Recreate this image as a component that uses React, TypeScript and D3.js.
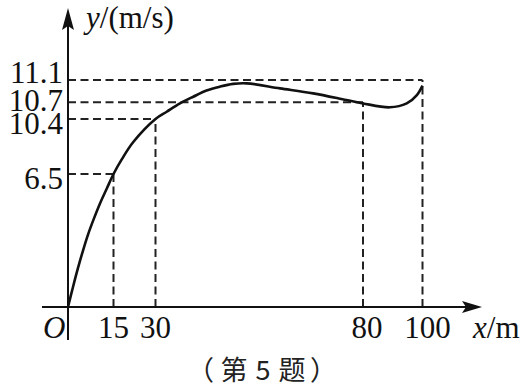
import * as d3 from 'd3';

// distance along the track (m) and speed (m/s)
const distance = [0, 1.65, 3.3, 4.95, 6.6, 8.57, 10.55, 12.76, 15, 18, 22, 30, 32.7, 35.9, 39.1, 42.3, 45.5, 48.7, 52, 60, 68, 76, 80, 89, 94.7, 98.1, 100];
const speed = [0, 0.98, 1.91, 2.76, 3.54, 4.33, 5.06, 5.78, 6.5, 7.55, 8.75, 10.4, 10.53, 10.68, 10.8, 10.91, 10.98, 11.03, 11.04, 10.95, 10.86, 10.74, 10.68, 10.61, 10.68, 10.83, 11.0];

// marked points (dashed guides)
const markX = [15, 30, 80, 100];
const markY = [6.5, 10.4, 10.7, 11.1];
const xTickLabels = ['15', '30', '80', '100'];
const yTickLabels = ['6.5', '10.4', '10.7', '11.1'];
const caption = ['（', '第', '5', '题', '）'];

const W = 527;
const H = 387;

export default function App() {
  // the textbook figure is not drawn to a uniform scale, so use piecewise scales
  const x = d3.scaleLinear().domain([0, 15, 30, 80, 100]).range([68, 113.5, 155.5, 363, 422.5]);
  const y = d3.scaleLinear().domain([0, 6.5, 10.4, 10.7, 11.1]).range([307, 174, 119, 102.3, 80]);

  const pts = distance.map((d, i) => [d, speed[i]] as [number, number]);
  const line = d3.line<[number, number]>()
    .x(d => x(d[0]))
    .y(d => y(d[1]))
    .curve(d3.curveCatmullRom.alpha(0.5));

  const x0 = x(0);
  const y0 = y(0);
  const serif = '"Liberation Serif", "Times New Roman", serif';
  const dash = '8 4.5';

  // small vertical nudges so the crowded labels don't collide
  const yLabelDy = [15, 15, 9, 3];
  const xLabelDx = [0, 0, 4, 5];
  const capX = [214, 234, 263, 292, 310];
  const capAnchor = ['end', 'middle', 'middle', 'middle', 'start'];

  return (
    <svg width={W} height={H} style={{ position: 'absolute', left: 0, top: 0, background: '#fff' }}>
      {/* dashed guides */}
      <g stroke="#222" strokeWidth={2} strokeDasharray={dash} fill="none">
        {markX.map((v, i) => (
          <line key={'v' + v} x1={x(v)} x2={x(v)} y1={y0} y2={y(markY[i])} />
        ))}
        {markY.map((v, i) => (
          <line key={'h' + v} x1={x0} x2={x(markX[i])} y1={y(v)} y2={y(v)} />
        ))}
      </g>

      {/* axes */}
      <g stroke="#111" strokeWidth={2}>
        <line x1={42} x2={470} y1={y0} y2={y0} />
        <line x1={x0} x2={x0} y1={340} y2={22} />
      </g>
      <path d={`M${482},${y0} L${462},${y0 - 6} L${466},${y0} L${462},${y0 + 6} Z`} fill="#111" />
      <path d={`M${x0},${8} L${x0 - 6},${30} L${x0},${26} L${x0 + 6},${30} Z`} fill="#111" />

      {/* curve */}
      <path d={line(pts) ?? ''} fill="none" stroke="#111" strokeWidth={2.6} />

      {/* labels */}
      <g fontFamily={serif} fontSize={31} fill="#111">
        {yTickLabels.map((t, i) => (
          <text key={t} x={63} y={y(markY[i]) + yLabelDy[i]} textAnchor="end">{t}</text>
        ))}
        {xTickLabels.map((t, i) => (
          <text key={t} x={x(markX[i]) + xLabelDx[i]} y={338} textAnchor="middle">{t}</text>
        ))}
        <text x={43} y={338} fontStyle="italic">O</text>
        <text x={473} y={338}><tspan fontStyle="italic">x</tspan>/m</text>
        <text x={86} y={28}><tspan fontStyle="italic">y</tspan>/(m/s)</text>
      </g>

      <g fontFamily='"Noto Sans CJK SC", sans-serif' fontSize={27} fill="#222">
        {caption.map((c, i) => (
          <text key={i} x={capX[i]} y={380} textAnchor={capAnchor[i] as any}>{c}</text>
        ))}
      </g>
    </svg>
  );
}
